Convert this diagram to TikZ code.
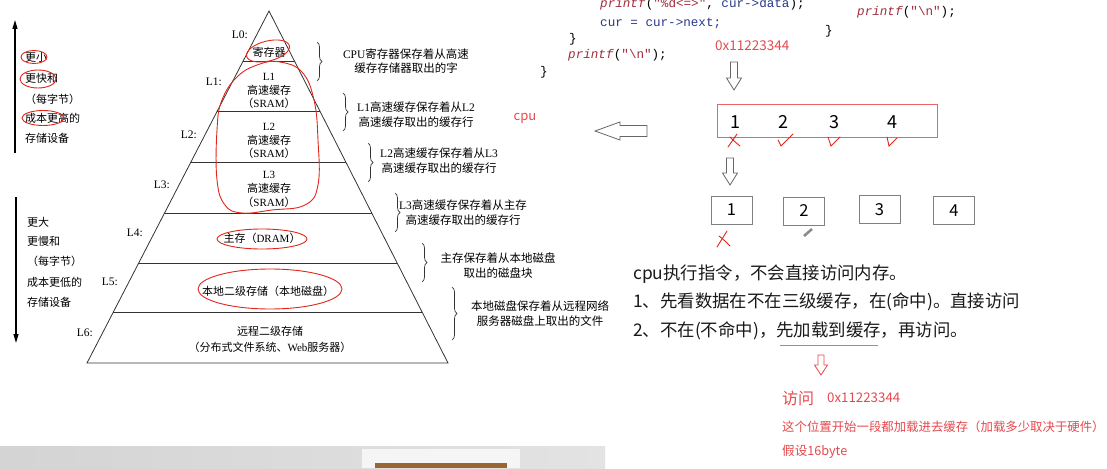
\documentclass[tikz,border=0pt]{standalone}
\usepackage{fontspec}
\setmainfont{Noto Sans CJK SC}
\newfontfamily\lat{Liberation Serif}
\setmonofont{Liberation Mono}
\usepackage{xcolor}
\usetikzlibrary{arrows.meta,calc,decorations.pathreplacing}
\definecolor{penred}{HTML}{E1251B}
\definecolor{notered}{HTML}{E5484D}
\definecolor{codered}{HTML}{A02B3C}
\definecolor{codeblue}{HTML}{28378C}
\definecolor{cellgrey}{HTML}{808080}
\tikzset{
  pics/harrow/.style n args={4}{code={
    \path[pic actions] (-#3,0) -- (#3,0) -- (#3,#1-#2) -- (#4,#1-#2) -- (0,#1) -- (-#4,#1-#2) -- (-#3,#1-#2) -- cycle;}}
}

\begin{document}
\begin{tikzpicture}[
    x=1pt, y=-1pt,
    edge/.style={draw=black!80, line width=0.8pt},
    lvl/.style={font=\fontsize{11}{13.8}\selectfont, align=center, inner sep=0pt},
    lab/.style={font=\lat\fontsize{11.5}{12}\selectfont, anchor=east, inner sep=0pt},
    side/.style={font=\fontsize{11}{12}\selectfont, anchor=west, inner sep=0pt},
    desc/.style={font=\fontsize{11.5}{14.5}\selectfont, align=center, inner sep=0pt},
    brc/.style={decorate, decoration={brace, amplitude=5pt}, draw=black!80, line width=0.7pt},
    pen/.style={draw=penred, line width=0.9pt, line cap=round},
    code/.style={font=\ttfamily\fontsize{12.6}{14}\selectfont, anchor=base west, inner sep=0pt},
    note/.style={font=\fontsize{17.4}{20}\selectfont, anchor=west, inner sep=0pt, text=black!90},
    rnote/.style={font=\fontsize{12.6}{14}\selectfont, anchor=west, inner sep=0pt, text=notered},
    cell/.style={draw=cellgrey, line width=0.8pt, minimum width=41pt, minimum height=28pt, inner sep=0pt, font=\fontsize{16.5}{17}\selectfont},
    hollow/.style={draw=black!60, fill=white, line width=0.8pt},
    >={Triangle[length=9pt,width=5pt]}
]
  \useasboundingbox (0,0) rectangle (1107,468);
  \clip (0,0) rectangle (1107,468);

  % pyramid
  \coordinate (apex) at (269,11);
  \coordinate (bl) at (87,363);
  \coordinate (br) at (448,363);
  \draw[edge] (bl) -- (apex) -- (br) -- cycle;
  \foreach \y in {61,111,162,213,263,312}
    \draw[edge] ($(apex)!{(\y-11)/352}!(bl)$) -- ($(apex)!{(\y-11)/352}!(br)$);

  \node[lab] (l0) at (248,35) {L0:};
  \node[lab] (l1) at (222,82) {L1:};
  \node[lab] (l2) at (197,135) {L2:};
  \node[lab] (l3) at (170,185) {L3:};
  \node[lab] (l4) at (143,233) {L4:};
  \node[lab] (l5) at (118,282) {L5:};
  \node[lab] (l6) at (93,333) {L6:};

  \node[lvl] (reg) at (269,52) {寄存器};
  \node[lvl] (sram1) at (269,91) {{\lat L1}\\高速缓存\\（{\lat SRAM}）};
  \node[lvl] (sram2) at (269,141) {{\lat L2}\\高速缓存\\（{\lat SRAM}）};
  \node[lvl] (sram3) at (269,189.5) {{\lat L3}\\高速缓存\\（{\lat SRAM}）};
  \node[lvl] (dram) at (262,238) {主存（{\lat DRAM}）};
  \node[lvl] (disk) at (268,291) {本地二级存储（本地磁盘）};
  \node[lvl, font=\fontsize{11}{16}\selectfont] (remote) at (270,339) {远程二级存储\\（分布式文件系统、{\lat Web}服务器）};

  % braces and what each level holds
  \draw[brc] (317,42) -- (317,81);
  \draw[brc] (343,93) -- (343,131);
  \draw[brc] (368,143) -- (368,182);
  \draw[brc] (395,193) -- (395,232);
  \draw[brc] (422,243) -- (422,282);
  \draw[brc] (452,287) -- (452,340);
  \node[desc] (h0) at (406,61) {{\lat CPU}寄存器保存着从高速\\缓存存储器取出的字};
  \node[desc] (h1) at (416,114.5) {{\lat L1}高速缓存保存着从{\lat L2}\\高速缓存取出的缓存行};
  \node[desc] (h2) at (439,160.5) {{\lat L2}高速缓存保存着从{\lat L3}\\高速缓存取出的缓存行};
  \node[desc] (h3) at (463,212.5) {{\lat L3}高速缓存保存着从主存\\高速缓存取出的缓存行};
  \node[desc] (h4) at (498,265.5) {主存保存着从本地磁盘\\取出的磁盘块};
  \node[desc] (h5) at (540,313.5) {本地磁盘保存着从远程网络\\服务器磁盘上取出的文件};

  % left side scale
  \draw[->, line width=1.3pt] (15,153) -- (15,20);
  \draw[->, line width=1.3pt] (16,197) -- (16,343);
  \node[side] (up1) at (25,57) {更小};
  \node[side] (up2) at (25,78) {更快和};
  \node[side] (up3) at (25,99) {（每字节）};
  \node[side] (up4) at (25,118) {成本更高的};
  \node[side] (up5) at (25,138) {存储设备};
  \node[side] (dn1) at (27,222) {更大};
  \node[side] (dn2) at (27,241) {更慢和};
  \node[side] (dn3) at (27,261) {（每字节）};
  \node[side] (dn4) at (27,282) {成本更低的};
  \node[side] (dn5) at (27,302) {存储设备};

  % red pen marks on the pyramid
  \draw[pen, rotate around={14:(268,51)}] (268,51) ellipse [x radius=22pt, y radius=10pt];
  \draw[pen] plot[smooth cycle, tension=0.7] coordinates {(280,62) (302,72) (314,100) (318,140) (318,185) (305,205) (272,210) (242,213) (225,205) (217,180) (217,130) (222,100) (238,76) (260,64)};
  \draw[pen] (262,239) ellipse [x radius=45pt, y radius=10pt];
  \draw[pen] (270,289) ellipse [x radius=72pt, y radius=20pt];
  \draw[pen] (34,57) ellipse [x radius=13pt, y radius=6.5pt];
  \draw[pen] (38,79) ellipse [x radius=18pt, y radius=9pt];
  \draw[pen] (43,118) ellipse [x radius=21pt, y radius=7.5pt];

  % code
  \node[code] (ln1) at (600,8) {\textcolor{codered}{\textit{printf}}(\textcolor{codered}{"\%d<=>"}, \textcolor{codeblue}{cur->data});};
  \node[code, text=codeblue] (ln2) at (600,27) {cur = cur->next;};
  \node[code] (ln3) at (569,43) {\}};
  \node[code] (ln4) at (568,59) {\textcolor{codered}{\textit{printf}}(\textcolor{codered}{"\textbackslash n"});};
  \node[code] (ln5) at (540,76) {\}};
  \node[code] (ln6) at (825,35) {\}};
  \node[code] (ln7) at (857,16) {\textcolor{codered}{\textit{printf}}(\textcolor{codered}{"\textbackslash n"});};

  % cache line
  \node[rnote, font=\fontsize{13.5}{14}\selectfont] (addr) at (715,46) {0x11223344};
  \pic[hollow] at (734,62) {harrow={28}{12}{3.5}{7.5}};
  \node[font=\fontsize{13}{14}\selectfont, text=notered, inner sep=0pt] (cpu) at (525,118) {cpu};
  \pic[hollow, rotate=-90] at (647,131) {harrow={52}{25}{5.5}{9}};
  \node[draw=notered!85, line width=0.8pt, minimum width=220pt, minimum height=33pt, inner sep=0pt] (line) at (827,120.5) {};
  \foreach \x/\d in {735/1,783/2,834/3,892/4}
    \node[font=\fontsize{18}{18}\selectfont, inner sep=0pt] (d\d) at (\x,122) {\d};
  \draw[pen] (728,147) -- (737,134);
  \draw[pen] (730,137) .. controls (734,141) .. (740,146);
  \draw[pen] (778,140) -- (781,146) -- (793,134);
  \draw[pen] (828,137) -- (831,146) -- (840,137);
  \draw[pen] (887,137) -- (889,146) -- (897,138);

  \pic[hollow] at (730,158) {harrow={27}{12}{3.5}{7.5}};
  \node[cell] (c1) at (731.5,210) {\raisebox{-4pt}{1}};
  \node[cell] (c2) at (804,211) {\raisebox{-6pt}{2}\hspace{8pt}};
  \node[cell] (c3) at (879.5,209.5) {\raisebox{-4pt}{3}};
  \node[cell] (c4) at (954,210.5) {\raisebox{-5pt}{4}};
  \draw[pen] (717,247) -- (727,231);
  \draw[pen] (719,236) .. controls (724,240) .. (730,246);
  \draw[line width=2.6pt, black!45] (804,236) -- (812,229);

  % notes
  \node[note] (t1) at (633,274) {cpu执行指令，不会直接访问内存。};
  \node[note] (t2) at (633,302) {1、先看数据在不在三级缓存，在(命中)。直接访问};
  \node[note] (t3) at (633,331) {2、不在(不命中)，先加载到缓存，再访问。};
  \draw[notered!80, line width=0.8pt] (780,345) -- (878,345);
  \pic[hollow, draw=notered] at (821,355) {harrow={20}{10}{3}{6.5}};
  \node[rnote, font=\fontsize{16}{17}\selectfont] (visit) at (782,398) {访问};
  \node[rnote, font=\fontsize{13.3}{14}\selectfont] (addr2) at (827,398) {0x11223344};
  \node[rnote, font=\fontsize{12.4}{14}\selectfont] (load) at (782,427) {这个位置开始一段都加载进去缓存（加载多少取决于硬件）};
  \node[rnote] (size) at (782,452) {假设16byte};

  % bottom bar
  \fill[left color=black!17, right color=black!11] (0,446) rectangle (605,468);
  \fill[black!4] (362,449) rectangle (520,468);
  \fill[brown!80!black] (375,463) rectangle (507,468);
\end{tikzpicture}
\end{document}
